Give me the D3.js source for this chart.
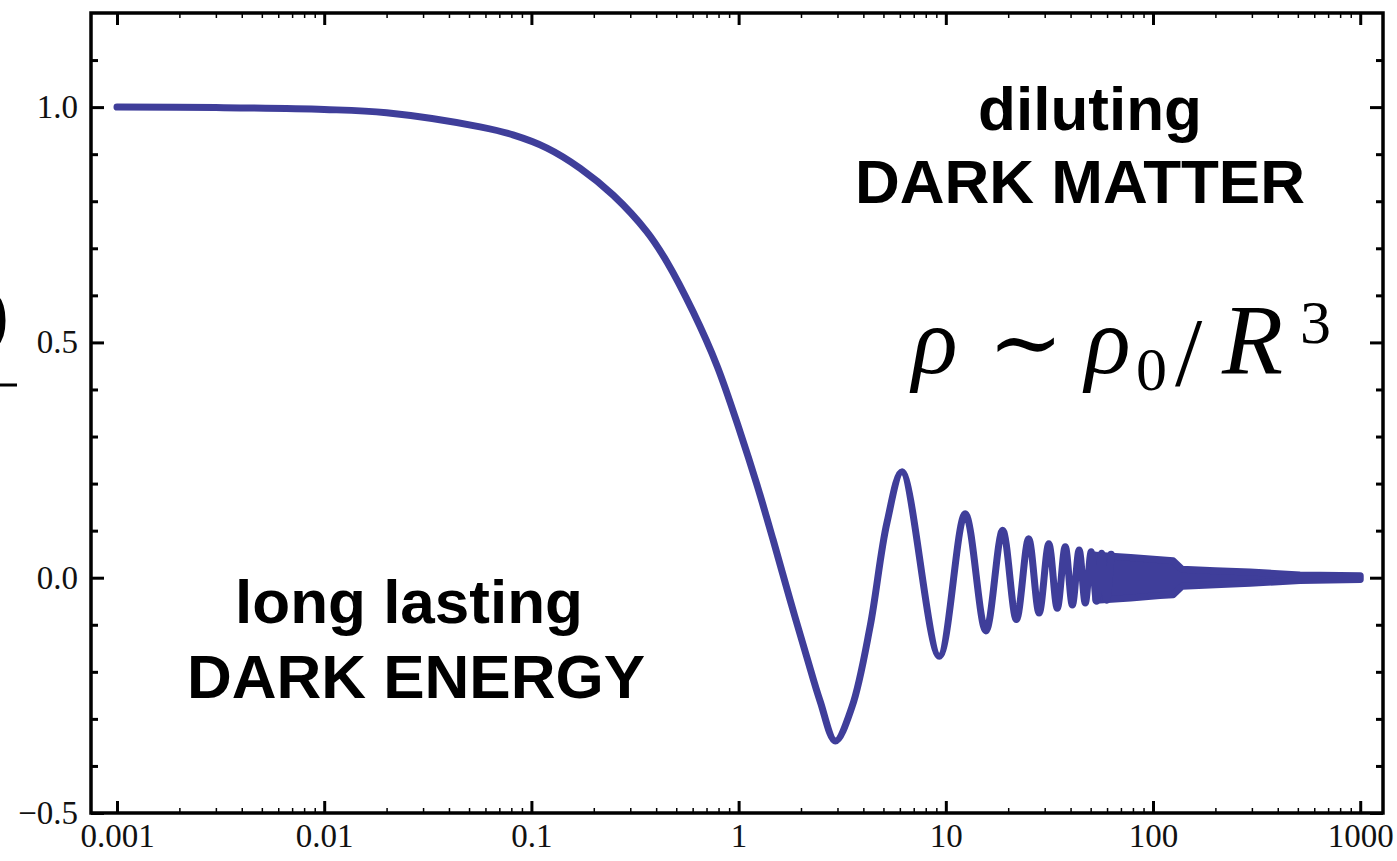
<!DOCTYPE html>
<html>
<head>
<meta charset="utf-8">
<script src="https://d3js.org/d3.v7.min.js"></script>
<style>
body { margin: 0; background: #fff; }
.tick text { font-family: "Liberation Serif", "Times New Roman", serif; font-size: 33px; fill: #111; }
.note { font-family: "Liberation Sans", Arial, sans-serif; font-weight: bold; font-size: 62px; fill: #000; text-anchor: middle; }
.math { font-family: "Liberation Serif", "Times New Roman", serif; fill: #000; }
</style>
</head>
<body>
<div id="chart"></div>
<script>
// the smooth part of the curve
var smoothX = [0.001, 0.003, 0.01, 0.02, 0.0565, 0.0815, 0.119, 0.172, 0.248, 0.361, 0.451, 0.603, 0.787,
               1.016, 1.227, 1.466, 1.771, 2.138, 2.472, 2.93, 3.527, 4.31, 5.2, 6.15];
var smoothY = [1.000, 0.999, 0.995, 0.988, 0.958, 0.941, 0.913, 0.870, 0.813, 0.735, 0.671, 0.565, 0.450,
               0.310, 0.197, 0.081, -0.047, -0.170, -0.262, -0.347, -0.274, -0.104, 0.117, 0.225];

// turning points of the oscillation that can still be told apart
var swingX = [9.3, 12.4, 15.6, 18.8, 21.9, 25.1, 28.2, 31.4, 34.5, 37.7, 40.8, 44.0, 47.1, 50.3, 53.4, 56.5, 59.7, 62.8];
var swingY = [-0.167, 0.136, -0.113, 0.101, -0.089, 0.083, -0.075, 0.072, -0.065, 0.066, -0.058, 0.059,
              -0.054, 0.055, -0.050, 0.052, -0.048, 0.050];

// envelope of the dense part (drawn as a filled band)
var bandX = [53, 78, 108, 125, 138, 200, 294, 512, 1000];
var bandAmp = [0.048, 0.043, 0.038, 0.036, 0.018, 0.015, 0.012, 0.006, 0.004];

var xMajor = [0.001, 0.01, 0.1, 1, 10, 100, 1000];
var xLabels = ["0.001", "0.01", "0.1", "1", "10", "100", "1000"];
var yMajor = [-0.5, 0.0, 0.5, 1.0];
var yLabels = ["\u22120.5", "0.0", "0.5", "1.0"];

var width = 1397, height = 861;
var padL = 91, padR = 1383, padT = 13, padB = 813;
var lineColor = "#3f3e9a";

var xMinor = [];
xMajor.slice(0, -1).forEach(function(d) {
  for (var k = 2; k <= 9; k++) xMinor.push(d * k);
});
var yMinor = d3.range(-4, 12).map(function(k) { return k / 10; })
  .filter(function(v) { return Math.abs(v * 2 - Math.round(v * 2)) > 1e-6; });

var x = d3.scaleLog().domain([0.000749, 1288]).range([padL, padR]);
var y = d3.scaleLinear().domain([-0.5, 1.2]).range([padB, padT]);

var svg = d3.select("#chart").append("svg").attr("width", width).attr("height", height);

// curve
var pts = smoothX.map(function(d, i) { return [d, smoothY[i]]; })
  .concat(swingX.map(function(d, i) { return [d, swingY[i]]; }));
var band = bandX.map(function(d, i) { return {x: d, a: bandAmp[i]}; });

var area = d3.area()
  .x(function(d) { return x(d.x); })
  .y0(function(d) { return y(-d.a); })
  .y1(function(d) { return y(d.a); });

svg.append("path").attr("d", area(band))
  .attr("fill", lineColor).attr("stroke", lineColor)
  .attr("stroke-width", 7).attr("stroke-linejoin", "round");

var line = d3.line()
  .x(function(d) { return x(d[0]); })
  .y(function(d) { return y(d[1]); })
  .curve(d3.curveCatmullRom.alpha(0.5));

svg.append("path").attr("d", line(pts))
  .attr("fill", "none").attr("stroke", lineColor)
  .attr("stroke-width", 7).attr("stroke-linejoin", "round").attr("stroke-linecap", "round");

// axes, ticks pointing inwards
function styleAxis(g, w) {
  g.select(".domain").remove();
  g.selectAll("line").attr("stroke", "#000").attr("stroke-width", w);
}

svg.append("g").attr("transform", "translate(" + padL + ",0)")
  .call(d3.axisLeft(y).tickValues(yMajor).tickSizeInner(-13).tickSizeOuter(0).tickPadding(13)
    .tickFormat(function(d, i) { return yLabels[i]; }))
  .call(styleAxis, 3);
svg.append("g").attr("transform", "translate(" + padL + ",0)")
  .call(d3.axisLeft(y).tickValues(yMinor).tickSize(-7).tickFormat(""))
  .call(styleAxis, 3);
svg.append("g").attr("transform", "translate(" + padR + ",0)")
  .call(d3.axisRight(y).tickValues(yMajor).tickSize(-13).tickFormat(""))
  .call(styleAxis, 3);
svg.append("g").attr("transform", "translate(" + padR + ",0)")
  .call(d3.axisRight(y).tickValues(yMinor).tickSize(-7).tickFormat(""))
  .call(styleAxis, 3);

svg.append("g").attr("transform", "translate(0," + padB + ")")
  .call(d3.axisBottom(x).tickValues(xMajor).tickSizeInner(-12).tickSizeOuter(0).tickPadding(11)
    .tickFormat(function(d, i) { return xLabels[i]; }))
  .call(styleAxis, 3);
svg.append("g").attr("transform", "translate(0," + padB + ")")
  .call(d3.axisBottom(x).tickValues(xMinor).tickSize(-5).tickFormat(""))
  .call(styleAxis, 1.5);
svg.append("g").attr("transform", "translate(0," + padT + ")")
  .call(d3.axisTop(x).tickValues(xMajor).tickSize(-12).tickFormat(""))
  .call(styleAxis, 3);
svg.append("g").attr("transform", "translate(0," + padT + ")")
  .call(d3.axisTop(x).tickValues(xMinor).tickSize(-5).tickFormat(""))
  .call(styleAxis, 1.5);

// frame
svg.append("rect").attr("x", padL).attr("y", padT)
  .attr("width", padR - padL).attr("height", padB - padT)
  .attr("fill", "none").attr("stroke", "#000").attr("stroke-width", 3.5);

// y label, cut off at the left edge like the original
svg.append("text").attr("class", "math").attr("x", 9).attr("y", 339)
  .attr("text-anchor", "end").attr("font-size", 77).text("\u03c1(t)");
svg.append("line").attr("x1", -60).attr("x2", 17).attr("y1", 385).attr("y2", 385)
  .attr("stroke", "#000").attr("stroke-width", 3);

// annotations
svg.append("text").attr("class", "note").attr("x", 409).attr("y", 623).text("long lasting");
svg.append("text").attr("class", "note").attr("x", 416).attr("y", 698).text("DARK ENERGY");
svg.append("text").attr("class", "note").attr("x", 1090).attr("y", 130).text("diluting");
svg.append("text").attr("class", "note").attr("x", 1080).attr("y", 203).text("DARK MATTER");

// rho ~ rho_0 / R^3
var m = svg.append("g").attr("class", "math");
m.append("text").attr("x", 912).attr("y", 373).attr("font-size", 95).attr("font-style", "italic").text("\u03c1");
m.append("text").attr("x", 988).attr("y", 373).attr("font-size", 90)
  .attr("font-family", "DejaVu Serif").text("\u223c");
m.append("text").attr("x", 1085).attr("y", 373).attr("font-size", 95).attr("font-style", "italic").text("\u03c1");
m.append("text").attr("x", 1136).attr("y", 390).attr("font-size", 62).text("0");
m.append("text").attr("x", 1175).attr("y", 385).attr("font-size", 98).text("/");
m.append("text").attr("x", 1222).attr("y", 373).attr("font-size", 100).attr("font-style", "italic").text("R");
m.append("text").attr("x", 1300).attr("y", 343).attr("font-size", 62).text("3");
</script>
</body>
</html>
